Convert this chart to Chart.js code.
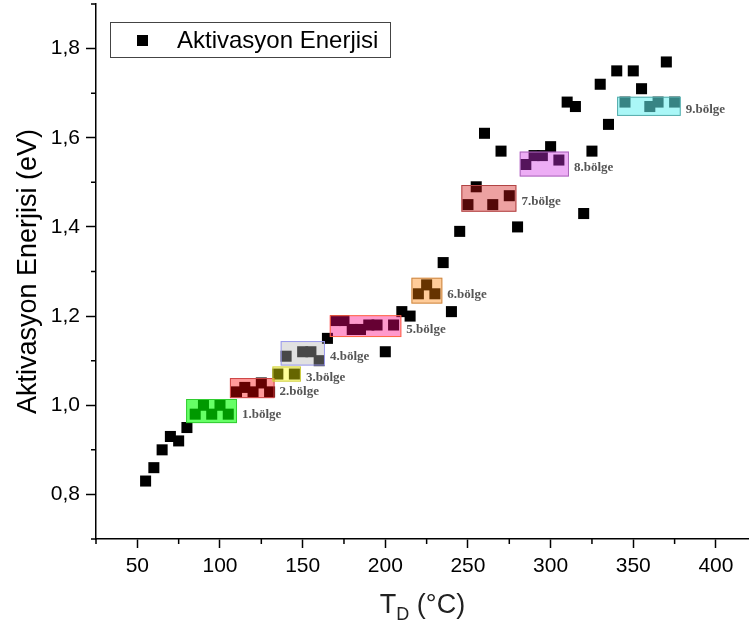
<!DOCTYPE html>
<html>
<head>
<meta charset="utf-8">
<title>Aktivasyon Enerjisi</title>
<script src="https://cdn.jsdelivr.net/npm/chart.js@4.4.1/dist/chart.umd.min.js"></script>
<style>
    html, body { margin: 0; padding: 0; background: #fff; }
    #wrap { width: 749px; height: 628px; position: relative; }
</style>
</head>
<body>
<div id="wrap"><canvas id="grafik"></canvas></div>
<script>
// Veriler
const sicakliklar = [55, 60, 65, 70, 75, 80, 85, 90, 95, 100, 105, 110, 115, 120, 125, 130,
    135, 140, 145, 150, 155, 160, 165, 170, 175, 180, 185, 190, 195, 200, 205, 210, 215,
    220, 225, 230, 235, 240, 245, 250, 255, 260, 265, 270, 275, 280, 285, 290, 295, 300,
    305, 310, 315, 320, 325, 330, 335, 340, 345, 350, 355, 360, 365, 370, 375];
const enerjiler = [0.83, 0.86, 0.90, 0.93, 0.92, 0.95, 0.98, 1.00, 0.98, 1.00, 0.98, 1.03, 1.04, 1.03, 1.05, 1.03,
    1.07, 1.11, 1.07, 1.12, 1.12, 1.10, 1.15, 1.19, 1.19, 1.17, 1.17, 1.18, 1.18, 1.12, 1.18, 1.21, 1.20,
    1.25, 1.27, 1.25, 1.32, 1.21, 1.39, 1.45, 1.49, 1.61, 1.45, 1.57, 1.47, 1.40, 1.54, 1.56, 1.56, 1.58,
    1.55, 1.68, 1.67, 1.43, 1.57, 1.72, 1.63, 1.75, 1.68, 1.75, 1.71, 1.67, 1.68, 1.77, 1.68];

// Eksen etiketleri
const xAnaTikler = [50, 100, 150, 200, 250, 300, 350, 400];
const xAraTikler = [25, 75, 125, 175, 225, 275, 325, 375];
const yAnaTikler = [0.8, 1.0, 1.2, 1.4, 1.6, 1.8];
const yAraTikler = [0.7, 0.9, 1.1, 1.3, 1.5, 1.7, 1.9];

// Bölgeler (eksen birimlerinde)
const bolgeAdlari = ['1.bölge', '2.bölge', '3.bölge', '4.bölge', '5.bölge', '6.bölge', '7.bölge', '8.bölge', '9.bölge'];
const bolgeXmin = [79.5, 106, 131.7, 136.7, 166.4, 215.8, 246, 281.3, 340.2];
const bolgeXmax = [110.3, 133, 149, 163.5, 209.7, 234.5, 279.3, 311.1, 378.7];
const bolgeYmin = [0.960, 1.016, 1.053, 1.089, 1.153, 1.228, 1.434, 1.513, 1.649];
const bolgeYmax = [1.014, 1.061, 1.087, 1.144, 1.202, 1.286, 1.494, 1.569, 1.692];
const bolgeDolgu = ['rgba(0,255,0,0.6)', 'rgba(255,0,0,0.4)', 'rgba(255,255,0,0.4)',
    'rgba(180,180,180,0.4)', 'rgba(255,0,128,0.4)', 'rgba(255,128,0,0.4)',
    'rgba(210,20,20,0.4)', 'rgba(210,50,230,0.4)', 'rgba(100,240,240,0.55)'];
const bolgeKenar = ['#33cc33', '#cc4444', '#cccc44', '#9999ee', '#ff6644',
    '#cc8844', '#b04444', '#aa66bb', '#55aaaa'];

const YAZI = "'Liberation Sans', Arial, sans-serif";

// Ara tikler, bölgeler, x başlığı ve lejant
const susleme = {
    id: 'susleme',
    afterDatasetsDraw(chart) {
        const ctx = chart.ctx;
        const xs = chart.scales.x;
        const ys = chart.scales.y;
        ctx.save();
        bolgeAdlari.forEach((ad, i) => {
            const x1 = xs.getPixelForValue(bolgeXmin[i]);
            const x2 = xs.getPixelForValue(bolgeXmax[i]);
            const y1 = ys.getPixelForValue(bolgeYmax[i]);
            const y2 = ys.getPixelForValue(bolgeYmin[i]);
            ctx.fillStyle = bolgeDolgu[i];
            ctx.fillRect(x1, y1, x2 - x1, y2 - y1);
            ctx.strokeStyle = bolgeKenar[i];
            ctx.lineWidth = 1;
            ctx.strokeRect(x1 + 0.5, y1 + 0.5, x2 - x1 - 1, y2 - y1 - 1);
            ctx.fillStyle = '#555';
            ctx.font = "bold 13px 'Liberation Serif', 'Times New Roman', serif";
            ctx.textAlign = 'left';
            ctx.textBaseline = 'alphabetic';
            ctx.fillText(ad, x2 + 5, (y1 + y2) / 2 + 7);
        });
        ctx.restore();
    },
    afterDraw(chart) {
        const ctx = chart.ctx;
        const xs = chart.scales.x;
        const ys = chart.scales.y;
        const alan = chart.chartArea;
        ctx.save();
        ctx.strokeStyle = '#000';
        ctx.lineWidth = 1.5;
        ctx.beginPath();
        xAraTikler.forEach(v => {
            const px = xs.getPixelForValue(v);
            ctx.moveTo(px, alan.bottom);
            ctx.lineTo(px, alan.bottom + 5);
        });
        yAraTikler.forEach(v => {
            const py = ys.getPixelForValue(v);
            ctx.moveTo(alan.left, py);
            ctx.lineTo(alan.left - 5, py);
        });
        ctx.stroke();

        // x başlığı: T_D (°C)
        const ana = '27px ' + YAZI;
        const alt = '18px ' + YAZI;
        ctx.fillStyle = '#222';
        ctx.textBaseline = 'alphabetic';
        ctx.textAlign = 'left';
        ctx.font = ana;
        const wT = ctx.measureText('T').width;
        const wP = ctx.measureText(' (°C)').width;
        ctx.font = alt;
        const wD = ctx.measureText('D').width;
        const toplam = wT + wD + wP;
        const bx = (alan.left + alan.right) / 2 - toplam / 2;
        const by = 613;
        ctx.font = ana;
        ctx.fillText('T', bx, by);
        ctx.font = alt;
        ctx.fillText('D', bx + wT, by + 7);
        ctx.font = ana;
        ctx.fillText(' (°C)', bx + wT + wD, by);

        // Lejant
        const ds = chart.data.datasets[0];
        ctx.strokeStyle = '#444';
        ctx.lineWidth = 1;
        ctx.strokeRect(110.5, 22.5, 280, 35);
        ctx.fillStyle = '#000';
        ctx.fillRect(137, 35, 11, 11);
        ctx.font = '24px ' + YAZI;
        ctx.textBaseline = 'middle';
        ctx.fillText(ds.label, 177, 41);
        ctx.restore();
    }
};

const ctx = document.getElementById('grafik');
new Chart(ctx, {
    type: 'scatter',
    data: {
        datasets: [{
            label: 'Aktivasyon Enerjisi',
            data: sicakliklar.map((t, i) => ({ x: t, y: enerjiler[i] })),
            pointStyle: 'rect',
            pointRadius: 7.8,
            pointHoverRadius: 7.8,
            pointBorderWidth: 0,
            backgroundColor: '#000',
            borderColor: '#000'
        }]
    },
    options: {
        responsive: true,
        maintainAspectRatio: false,
        animation: false,
        layout: { autoPadding: false, padding: { top: 4, right: 0, bottom: 0, left: 0 } },
        plugins: {
            legend: { display: false },
            tooltip: { enabled: false }
        },
        scales: {
            x: {
                type: 'linear',
                min: 25,
                max: 420,
                border: { color: '#000', width: 1.5 },
                grid: { drawOnChartArea: false, drawTicks: true, tickLength: 9, tickColor: '#000', tickWidth: 1.5 },
                ticks: {
                    stepSize: 50,
                    color: '#000',
                    padding: 6,
                    maxRotation: 0,
                    font: { family: YAZI, size: 21 },
                    callback: v => String(v)
                },
                afterBuildTicks: s => {
                    s.ticks = xAnaTikler.map(v => ({ value: v }));
                },
                afterFit: s => {
                    s.height = 89;
                    s.paddingLeft = 0;
                    s.paddingRight = 0;
                }
            },
            y: {
                type: 'linear',
                min: 0.7,
                max: 1.9,
                border: { color: '#000', width: 1.5 },
                grid: { drawOnChartArea: false, drawTicks: true, tickLength: 10, tickColor: '#000', tickWidth: 1.5 },
                ticks: {
                    stepSize: 0.2,
                    color: '#000',
                    padding: 6,
                    font: { family: YAZI, size: 21 },
                    callback: v => Number(v).toFixed(1).replace('.', ',')
                },
                afterBuildTicks: s => {
                    s.ticks = yAnaTikler.map(v => ({ value: v }));
                },
                title: {
                    display: true,
                    text: 'Aktivasyon Enerjisi (eV)',
                    color: '#000',
                    font: { family: YAZI, size: 27 },
                    padding: { top: 12, bottom: 0 }
                },
                afterFit: s => {
                    s.width = 96;
                    s.paddingTop = 0;
                    s.paddingBottom = 0;
                }
            }
        }
    },
    plugins: [susleme]
});
</script>
</body>
</html>
